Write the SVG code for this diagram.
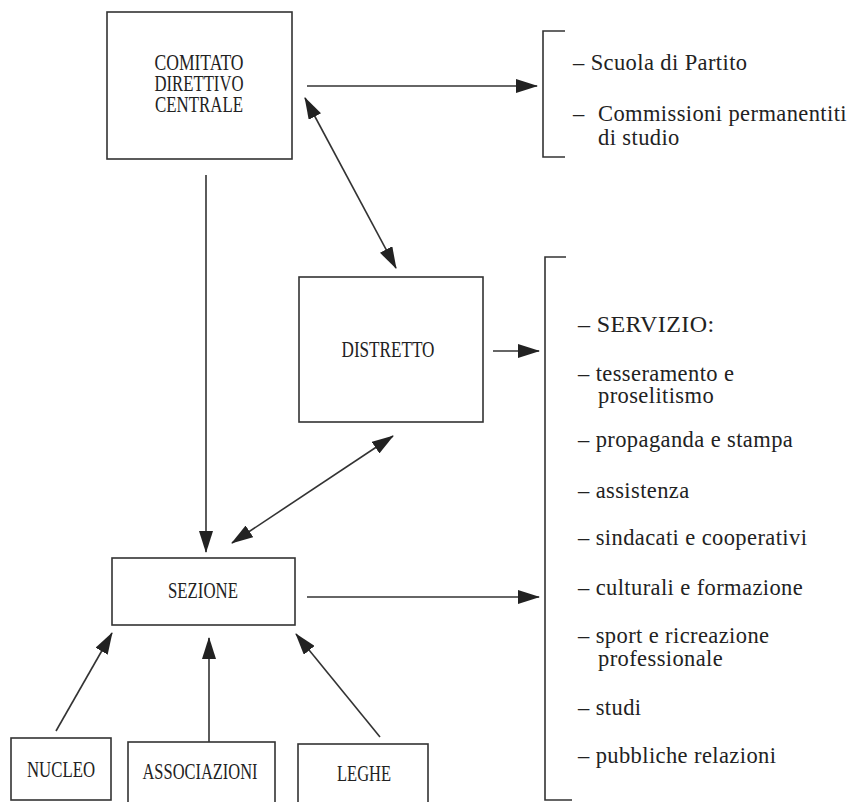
<svg xmlns="http://www.w3.org/2000/svg" width="861" height="802" viewBox="0 0 861 802">
<style>
.box{fill:none;stroke:#333;stroke-width:1.6}
.ln{fill:none;stroke:#333;stroke-width:1.6}
.lbl{font-family:"Liberation Serif","Times New Roman",serif;font-size:23px;fill:#222;text-anchor:middle}
.lst{font-family:"Liberation Serif","Times New Roman",serif;font-size:22.5px;fill:#222;letter-spacing:0.4px}
.big{font-size:24px}
</style>
<defs>
<marker id="ah" viewBox="0 0 22 14" refX="21" refY="7" markerWidth="22" markerHeight="14" markerUnits="userSpaceOnUse" orient="auto-start-reverse">
<path d="M0,0 L22,7 L0,14 z" fill="#222"/>
</marker>
</defs>
<rect width="861" height="802" fill="#fff"/>

<g id="connectors">
<line class="ln" x1="307" y1="86" x2="537" y2="86" marker-end="url(#ah)"/>
<line class="ln" x1="305" y1="98" x2="396" y2="268" marker-start="url(#ah)" marker-end="url(#ah)"/>
<line class="ln" x1="206" y1="175" x2="206" y2="552" marker-end="url(#ah)"/>
<line class="ln" x1="493" y1="351" x2="539" y2="351" marker-end="url(#ah)"/>
<line class="ln" x1="393" y1="436" x2="232" y2="543" marker-start="url(#ah)" marker-end="url(#ah)"/>
<line class="ln" x1="307" y1="597" x2="539" y2="597" marker-end="url(#ah)"/>
<line class="ln" x1="56" y1="731" x2="112" y2="633" marker-end="url(#ah)"/>
<line class="ln" x1="209" y1="742" x2="209" y2="638" marker-end="url(#ah)"/>
<line class="ln" x1="380" y1="737" x2="296" y2="634" marker-end="url(#ah)"/>
</g>

<g id="cdc">
<rect class="box" x="107" y="12" width="185" height="147"/>
<text class="lbl" x="199" y="70" textLength="89" lengthAdjust="spacingAndGlyphs">COMITATO</text>
<text class="lbl" x="199" y="91" textLength="89" lengthAdjust="spacingAndGlyphs">DIRETTIVO</text>
<text class="lbl" x="199" y="112" textLength="88" lengthAdjust="spacingAndGlyphs">CENTRALE</text>
</g>

<g id="bracket1">
<path class="ln" d="M565,31 H543 V157 H565"/>
<text class="lst" x="573" y="70">– Scuola di Partito</text>
<text class="lst" x="573" y="121">–</text>
<text class="lst" x="598" y="121">Commissioni permanentiti</text>
<text class="lst" x="598" y="145">di studio</text>
</g>

<g id="distretto">
<rect class="box" x="299" y="277" width="184" height="145"/>
<text class="lbl" x="388" y="357" textLength="93" lengthAdjust="spacingAndGlyphs">DISTRETTO</text>
</g>

<g id="bracket2">
<path class="ln" d="M566,257 H545 V800 H572"/>
<text class="lst big" x="578" y="332">– SERVIZIO:</text>
<text class="lst" x="578" y="381">– tesseramento e</text>
<text class="lst" x="598" y="403">proselitismo</text>
<text class="lst" x="578" y="447">– propaganda e stampa</text>
<text class="lst" x="578" y="498">– assistenza</text>
<text class="lst" x="578" y="545">– sindacati e cooperativi</text>
<text class="lst" x="578" y="595">– culturali e formazione</text>
<text class="lst" x="578" y="643">– sport e ricreazione</text>
<text class="lst" x="598" y="666">professionale</text>
<text class="lst" x="578" y="715">– studi</text>
<text class="lst" x="578" y="763">– pubbliche relazioni</text>
</g>

<g id="sezione">
<rect class="box" x="112" y="558" width="183" height="67"/>
<text class="lbl" x="203" y="598" textLength="70" lengthAdjust="spacingAndGlyphs">SEZIONE</text>
</g>

<g id="nucleo">
<rect class="box" x="11" y="738" width="100" height="62"/>
<text class="lbl" x="61" y="777" textLength="68" lengthAdjust="spacingAndGlyphs">NUCLEO</text>
</g>

<g id="associazioni">
<rect class="box" x="128" y="742" width="147" height="62"/>
<text class="lbl" x="200" y="779" textLength="115" lengthAdjust="spacingAndGlyphs">ASSOCIAZIONI</text>
</g>

<g id="leghe">
<rect class="box" x="298" y="744" width="130" height="60"/>
<text class="lbl" x="364" y="781" textLength="54" lengthAdjust="spacingAndGlyphs">LEGHE</text>
</g>
</svg>
